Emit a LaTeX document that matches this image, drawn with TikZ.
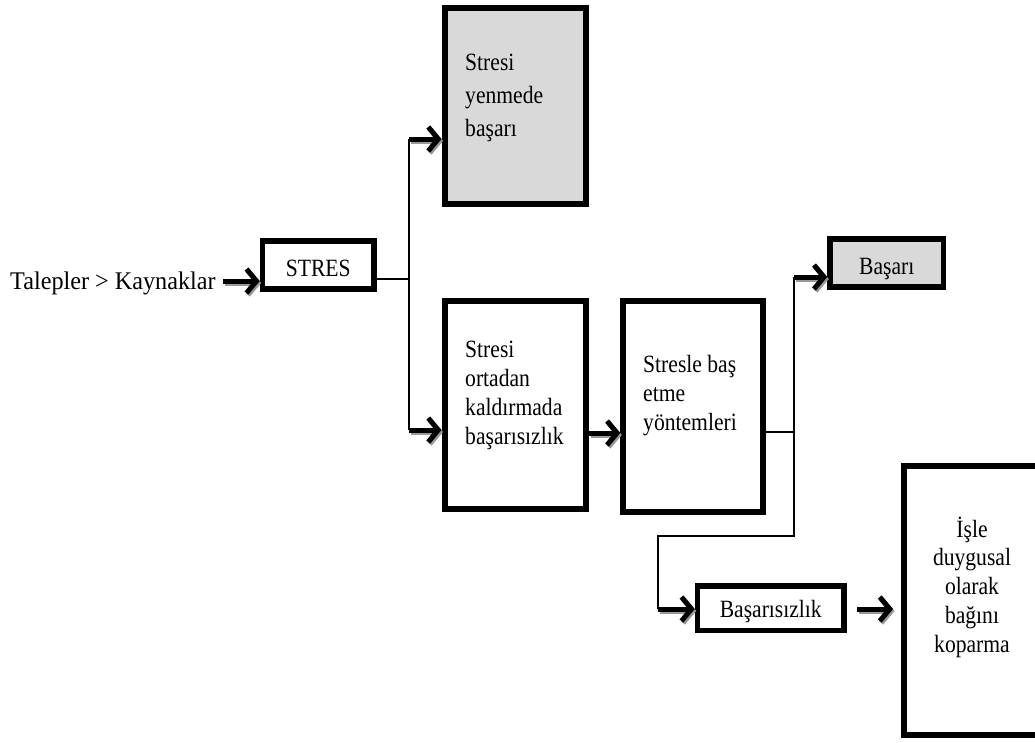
\documentclass[tikz,border=0pt]{standalone}
\usepackage{fontspec}
\setmainfont{Liberation Serif}
\usetikzlibrary{arrows.meta,calc}
\definecolor{boxgrey}{HTML}{D9D9D9}
\newcommand\tf{\fontsize{21.6}{28}\selectfont}
\newcommand\sy[1]{\scalebox{1}[1.15]{#1}}
\newcommand\low[2]{\raisebox{-#1}[\height][\depth]{\sy{#2}}}
\tikzset{
  bx/.style={draw=black, line width=5.5pt, inner sep=0pt, text=black, font=\tf},
  conn/.style={line width=1.8pt},
  arr/.style={line width=5pt, -{Straight Barb[length=10pt,width=24pt]}},
  arrsh/.style={arr, draw=black!40, transform canvas={shift={(1.5pt,-2pt)}}},
  ln/.style={anchor=base west, inner sep=0pt, font=\tf},
  lnc/.style={anchor=base, inner sep=0pt, font=\tf},
}
\newcommand\arw[2]{\draw[arrsh] #1 -- #2; \draw[arr] #1 -- #2;}
\begin{document}
\begin{tikzpicture}[x=1pt,y=-1pt]
\fill[white] (0,0) rectangle (1035,742);
\clip (0,0) rectangle (1035,742);

% boxes
\node[bx, minimum width=111.5pt, minimum height=48pt] (stres) at (318.25,265) {\low{3pt}{STRES}};
\node[bx, fill=boxgrey, line width=6pt, minimum width=141.8pt, minimum height=196pt] (top) at (515.4,106) {};
\node[bx, line width=6pt, minimum width=141.8pt, minimum height=208pt] (b1) at (515.4,405) {};
\node[bx, line width=6pt, minimum width=139.2pt, minimum height=211pt] (b2) at (692.9,406.5) {};
\node[bx, fill=boxgrey, minimum width=113.5pt, minimum height=48pt] (basari) at (886.75,263) {\low{6pt}{Başarı}};
\node[bx, minimum width=146.5pt, minimum height=44.3pt] (fail) at (770.75,608.2) {\low{3pt}{Başarısızlık}};
\node[bx, line width=6pt, minimum width=170pt, minimum height=269.3pt] (kop) at (989,600.6) {};

% texts
\node[ln, font=\fontsize{24.2}{28}\selectfont] (tk) at (10,289) {\scalebox{1}[1.05]{Talepler > Kaynaklar}};
\foreach \s [count=\i] in {Stresi, yenmede, başarı}
  \node[ln] (ta\i) at (465,{70+33*(\i-1)}) {\sy{\s}};
\foreach \s [count=\i] in {Stresi, ortadan, kaldırmada, başarısızlık}
  \node[ln] (tb\i) at (465,{357+29*(\i-1)}) {\sy{\s}};
\foreach \s [count=\i] in {Stresle baş, etme, yöntemleri}
  \node[ln] (tc\i) at (643,{372+29*(\i-1)}) {\sy{\s}};
\foreach \s [count=\i] in {İşle, duygusal, olarak, bağını, koparma}
  \node[lnc] (td\i) at (972,{537+28.9*(\i-1)}) {\sy{\s}};

% connectors
\coordinate (a0) at (223,281);
\arw{(a0)}{(a0 -| stres.west)}

\coordinate (j1) at (409.3,279);
\coordinate (ja) at (409.3,139);
\coordinate (jb) at (409.3,430);
\draw[conn] (stres.east |- j1) -- (j1);
\draw[conn] (ja) -- (jb);
\arw{(ja)}{(ja -| top.west)}
\arw{(jb)}{(jb -| b1.west)}

\coordinate (m) at (0,433);
\arw{(m -| b1.east)}{(m -| b2.west)}

\coordinate (j2) at (794,432);
\coordinate (jc) at (794,277);
\coordinate (jd) at (794,536);
\coordinate (je) at (658,609);
\draw[conn] (b2.east |- j2) -- (j2);
\draw[conn] (jc) -- (jd) -| (je);
\arw{(jc)}{(jc -| basari.west)}
\arw{(je)}{(je -| fail.west)}

\coordinate (f1) at (857,609);
\coordinate (f2) at (893,609);
\arw{(f1)}{(f2)}
\end{tikzpicture}
\end{document}
